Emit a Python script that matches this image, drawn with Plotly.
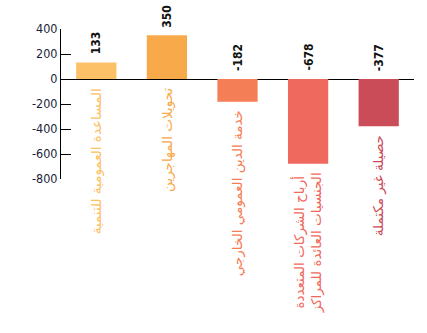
import plotly.graph_objects as go

categories = [
    "المساعدة العمومية للتنمية",
    "تحويلات المهاجرين",
    "خدمة الدين العمومي الخارجي",
    "أرباح الشركات المتعددة<br>الجنسيات العائدة للمراكز",
    "حصيلة غير مكتملة",
]
values = [133, 350, -182, -678, -377]
colors = ["#FCC066", "#F8A94A", "#F47E55", "#F0695E", "#CA4C58"]
y_ticks = [400, 200, 0, -200, -400, -600, -800]

xs = list(range(len(categories)))

fig = go.Figure()
fig.add_trace(go.Bar(x=xs, y=values, marker=dict(color=colors, line=dict(width=0)),
                     hoverinfo="skip"))

annotations = []
for i, (c, v, col) in enumerate(zip(categories, values, colors)):
    annotations.append(dict(
        x=i, y=max(v, 0), xref="x", yref="y", text=f"<b>{v}</b>", showarrow=False,
        textangle=-90, yanchor="bottom", xanchor="center", yshift=6,
        font=dict(family="DejaVu Sans Condensed, Roboto, sans-serif", size=12, color="#111"),
    ))
    annotations.append(dict(
        x=i, y=min(v, 0), xref="x", yref="y", text=c, showarrow=False,
        textangle=-90, yanchor="top", xanchor="center", yshift=-7,
        font=dict(family="DejaVu Sans, sans-serif", size=13.5, color=col),
    ))

fig.update_layout(
    width=427, height=333,
    margin=dict(l=61, r=13, t=29, b=154),
    paper_bgcolor="white", plot_bgcolor="white",
    showlegend=False, bargap=0.43,
    annotations=annotations,
    xaxis=dict(range=[-0.5, len(categories) - 0.5], showticklabels=False, showgrid=False,
               zeroline=False, showline=False, ticks=""),
    yaxis=dict(range=[-800, 400], tickvals=y_ticks, ticktext=[str(t) for t in y_ticks],
               showgrid=False, zeroline=True, zerolinecolor="black", zerolinewidth=1,
               showline=True, linecolor="black", linewidth=1,
               ticks="inside", ticklen=10, tickcolor="black", tickwidth=1,
               tickfont=dict(family="DejaVu Sans Condensed, Roboto, sans-serif", size=12.5, color="#1a1f3a")),
)

fig.write_html("out.html")
